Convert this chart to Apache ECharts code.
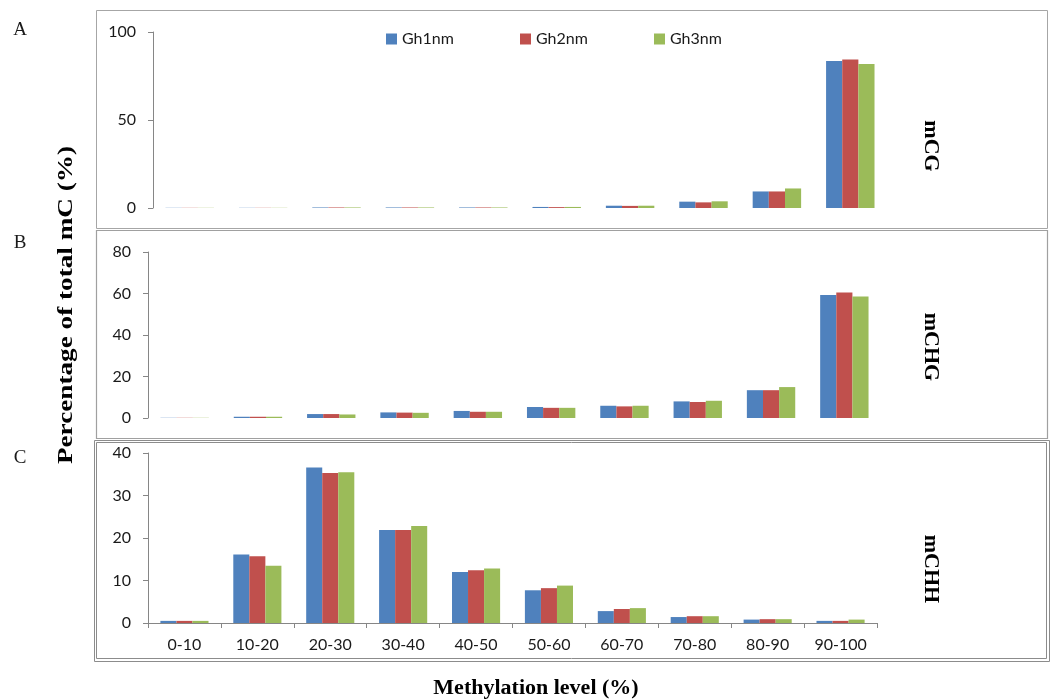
<!DOCTYPE html>
<html>
<head>
<meta charset="utf-8">
<title>Methylation level distribution</title>
<script src="https://cdn.jsdelivr.net/npm/echarts@6/dist/echarts.min.js"></script>
<style>
  html, body { margin: 0; padding: 0; background: #ffffff; }
  #chart { width: 1052px; height: 700px; }
</style>
</head>
<body>
<div id="chart"></div>
<script>
// Methylation level bins (x axis)
const categories = ['0-10', '10-20', '20-30', '30-40', '40-50', '50-60', '60-70', '70-80', '80-90', '90-100'];
const sampleNames = ['Gh1nm', 'Gh2nm', 'Gh3nm'];
const sampleColors = ['#4F81BD', '#C0504D', '#9BBB59'];

// Panel A: mCG, percentage of total mC per bin
const mCG_Gh1nm = [0.1, 0.1, 0.3, 0.3, 0.3, 0.6, 1.3, 3.6, 9.4, 83.5];
const mCG_Gh2nm = [0.1, 0.1, 0.3, 0.3, 0.3, 0.5, 1.2, 3.2, 9.4, 84.4];
const mCG_Gh3nm = [0.1, 0.1, 0.3, 0.3, 0.3, 0.6, 1.3, 3.8, 11.1, 81.8];

// Panel B: mCHG
const mCHG_Gh1nm = [0.1, 0.6, 1.9, 2.7, 3.4, 5.3, 5.9, 8.0, 13.4, 59.3];
const mCHG_Gh2nm = [0.1, 0.6, 1.9, 2.6, 3.0, 4.9, 5.6, 7.7, 13.4, 60.5];
const mCHG_Gh3nm = [0.1, 0.6, 1.7, 2.5, 3.0, 4.9, 5.9, 8.3, 14.9, 58.6];

// Panel C: mCHH
const mCHH_Gh1nm = [0.5, 16.1, 36.6, 21.9, 12.0, 7.7, 2.8, 1.4, 0.8, 0.5];
const mCHH_Gh2nm = [0.5, 15.7, 35.3, 21.9, 12.4, 8.2, 3.3, 1.6, 0.9, 0.5];
const mCHH_Gh3nm = [0.5, 13.5, 35.5, 22.8, 12.8, 8.8, 3.5, 1.6, 0.9, 0.8];

// Value axis ticks per panel
const ticksA = [0, 50, 100];
const ticksB = [0, 20, 40, 60, 80];
const ticksC = [0, 10, 20, 30, 40];

const panelLetters = ['A', 'B', 'C'];
const contextLabels = ['mCG', 'mCHG', 'mCHH'];
const yTitle = 'Percentage of total mC (%)';
const xTitle = 'Methylation level (%)';

const panels = [
  { data: [mCG_Gh1nm, mCG_Gh2nm, mCG_Gh3nm], ticks: ticksA, grid: { left: 153, top: 32, width: 734, height: 176 } },
  { data: [mCHG_Gh1nm, mCHG_Gh2nm, mCHG_Gh3nm], ticks: ticksB, grid: { left: 148, top: 252, width: 733, height: 166 } },
  { data: [mCHH_Gh1nm, mCHH_Gh2nm, mCHH_Gh3nm], ticks: ticksC, grid: { left: 148, top: 453, width: 729, height: 170 } }
];

const tickFont = 'Lato';
const axisGray = '#868686';
const textDark = '#1a1a1a';

const grids = panels.map(p => Object.assign({ containLabel: false }, p.grid));

const xAxes = panels.map((p, i) => {
  const last = i === panels.length - 1;
  return {
    type: 'category',
    gridIndex: i,
    data: categories,
    boundaryGap: true,
    axisLine: { show: last, lineStyle: { color: axisGray, width: 1 } },
    axisTick: { show: last, alignWithLabel: false, length: 5, lineStyle: { color: axisGray } },
    axisLabel: { show: last, margin: 14, fontFamily: tickFont, fontSize: 16, color: textDark },
    splitLine: { show: false }
  };
});

const yAxes = panels.map((p, i) => {
  const t = p.ticks;
  return {
    type: 'value',
    gridIndex: i,
    min: t[0],
    max: t[t.length - 1],
    interval: t[1] - t[0],
    axisLine: { show: true, lineStyle: { color: axisGray, width: 1 } },
    axisTick: { show: true, length: 5, lineStyle: { color: axisGray } },
    axisLabel: { margin: 17, fontFamily: tickFont, fontSize: 16, color: textDark },
    splitLine: { show: false }
  };
});

const series = [];
panels.forEach((p, i) => {
  p.data.forEach((values, k) => {
    series.push({
      type: 'bar',
      name: sampleNames[k],
      xAxisIndex: i,
      yAxisIndex: i,
      data: values,
      barGap: '0%',
      barCategoryGap: '34%',
      itemStyle: { color: sampleColors[k] },
      emphasis: { disabled: true },
      animation: false
    });
  });
});

// One legend per sample so each entry sits at its own spot
const legendLefts = [386, 520, 654];
const legends = sampleNames.map((n, k) => ({
  data: [n],
  left: legendLefts[k],
  top: 31,
  orient: 'horizontal',
  icon: 'rect',
  itemWidth: 11,
  itemHeight: 11,
  padding: 0,
  selectedMode: false,
  textStyle: { fontFamily: tickFont, fontSize: 16, color: textDark }
}));

const serif = '"Liberation Serif", "Times New Roman", serif';

const graphic = [
  // panel frames
  { type: 'rect', shape: { x: 96.5, y: 10.5, width: 951, height: 218 }, style: { fill: 'none', stroke: '#a6a6a6', lineWidth: 1 }, silent: true },
  { type: 'rect', shape: { x: 96.5, y: 230.5, width: 951, height: 208 }, style: { fill: 'none', stroke: '#a0a0a0', lineWidth: 1.2 }, silent: true },
  { type: 'rect', shape: { x: 94.5, y: 440.5, width: 955, height: 221 }, style: { fill: 'none', stroke: '#8c8c8c', lineWidth: 1 }, silent: true },
  { type: 'rect', shape: { x: 96.5, y: 442.5, width: 950, height: 216 }, style: { fill: 'none', stroke: '#8c8c8c', lineWidth: 1 }, silent: true },
  // panel letters
  { type: 'text', x: 20, y: 30, style: { text: panelLetters[0], font: '19px ' + serif, fill: textDark, align: 'center', verticalAlign: 'middle' }, silent: true },
  { type: 'text', x: 20, y: 243, style: { text: panelLetters[1], font: '19px ' + serif, fill: textDark, align: 'center', verticalAlign: 'middle' }, silent: true },
  { type: 'text', x: 20, y: 458, style: { text: panelLetters[2], font: '19px ' + serif, fill: textDark, align: 'center', verticalAlign: 'middle' }, silent: true },
  // sequence context labels, reading downwards
  { type: 'text', x: 931, y: 146, rotation: -Math.PI / 2, style: { text: contextLabels[0], font: 'bold 22px ' + serif, fill: '#000', align: 'center', verticalAlign: 'middle' }, silent: true },
  { type: 'text', x: 931, y: 347, rotation: -Math.PI / 2, style: { text: contextLabels[1], font: 'bold 22px ' + serif, fill: '#000', align: 'center', verticalAlign: 'middle' }, silent: true },
  { type: 'text', x: 931, y: 569, rotation: -Math.PI / 2, style: { text: contextLabels[2], font: 'bold 22px ' + serif, fill: '#000', align: 'center', verticalAlign: 'middle' }, silent: true },
  // shared axis titles
  { type: 'text', x: 67, y: 305, rotation: Math.PI / 2, scaleX: 1.36, style: { text: yTitle, font: 'bold 20px ' + serif, fill: '#000', align: 'center', verticalAlign: 'middle' }, silent: true },
  { type: 'text', x: 536, y: 689, scaleX: 1.1, style: { text: xTitle, font: 'bold 20px ' + serif, fill: '#000', align: 'center', verticalAlign: 'middle' }, silent: true }
];

const chart = echarts.init(document.getElementById('chart'), null, { renderer: 'canvas' });
chart.setOption({
  backgroundColor: '#ffffff',
  animation: false,
  legend: legends,
  grid: grids,
  xAxis: xAxes,
  yAxis: yAxes,
  series: series,
  graphic: graphic
});
</script>
</body>
</html>
